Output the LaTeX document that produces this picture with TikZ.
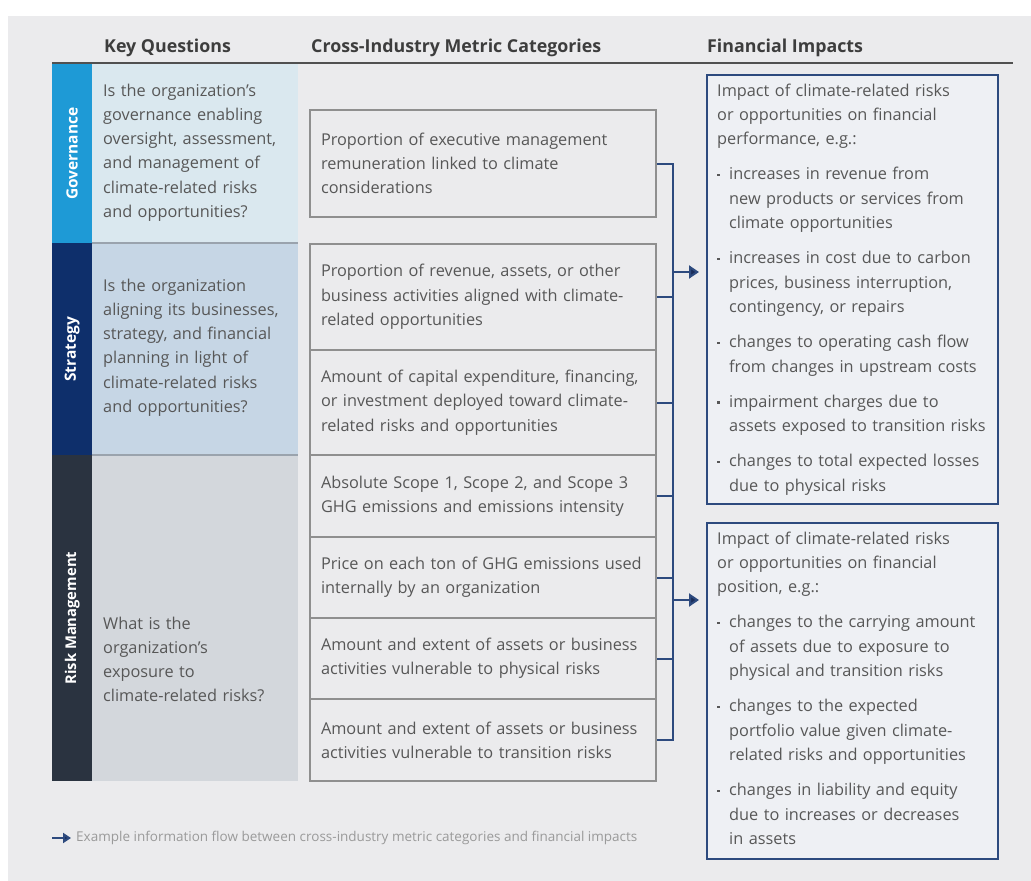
\documentclass[tikz,border=0pt]{standalone}
\usepackage{fontspec}
\setmainfont{Open Sans}
\usetikzlibrary{arrows.meta}
\definecolor{bg}{HTML}{EBEBED}
\definecolor{govbar}{HTML}{1E9AD6}
\definecolor{govpan}{HTML}{DAE8EF}
\definecolor{strbar}{HTML}{0E2F6B}
\definecolor{strpan}{HTML}{C6D6E5}
\definecolor{riskbar}{HTML}{2A3340}
\definecolor{riskpan}{HTML}{D3D7DC}
\definecolor{txt}{HTML}{575757}
\definecolor{hdr}{HTML}{3D3D3D}
\definecolor{mbord}{HTML}{8F8F8F}
\definecolor{navy}{HTML}{2D4A7E}
\definecolor{navydk}{HTML}{1A2D5A}
\definecolor{fbox}{HTML}{EEF0F4}
\definecolor{sep}{HTML}{9AA3AD}
\definecolor{legtxt}{HTML}{9A9A9A}
\newcommand\FIbul{\makebox[12pt][l]{\rule[3.5pt]{3pt}{2.4pt}}}
\newcommand\FIind{\hspace*{12pt}}
\begin{document}
\begin{tikzpicture}[x=1pt,y=-1pt,
  body/.style={font=\fontsize{16.3}{24.3}\selectfont, text=txt},
  header/.style={font=\bfseries\fontsize{17.8}{20}\selectfont, text=hdr, anchor=base west, inner sep=0pt},
  qtext/.style={body, text width=194pt, align=left, inner sep=0pt, anchor=base west},
  metric/.style={body, draw=mbord, line width=2pt, text width=330pt, minimum width=346pt,
     inner xsep=8pt, inner ysep=0pt, align=left},
  fin/.style={draw=navy, line width=2pt, fill=fbox, minimum width=291pt, inner sep=0pt, anchor=north west},
  ftext/.style={body, text width=280pt, align=left, inner sep=0pt, anchor=base west},
  panel/.style={inner sep=0pt, minimum width=206pt, anchor=north west},
  barbox/.style={inner sep=0pt, minimum width=40pt, anchor=north west},
  vlabel/.style={rotate=90, font=\bfseries\fontsize{15.5}{16}\selectfont, text=white, inner sep=0pt},
  conn/.style={draw=navy, line width=2pt},
  arr/.style={conn, -{Triangle[length=10pt,width=13pt,fill=navydk]}},
  sepline/.style={draw=sep, line width=2pt}
]
\useasboundingbox (0,0) rectangle (1031,881);
\fill[white] (0,0) rectangle (1031,881);
\fill[bg] (8,16) rectangle (1031,881);

% headers
\node[header] (h1) at (104,52) {Key Questions};
\node[header] (h2) at (311,52) {Cross-Industry Metric Categories};
\node[header] (h3) at (707,52) {Financial Impacts};
\draw[draw=hdr!90, line width=1.5pt] (52,63) -- (1013,63);

% left bars and panels
\node[barbox, fill=govbar, minimum height=179pt] (gb) at (52,64) {};
\node[barbox, fill=strbar, minimum height=212pt] (sb) at (52,243) {};
\node[barbox, fill=riskbar, minimum height=326pt] (rb) at (52,455) {};
\node[panel, fill=govpan, minimum height=179pt] (gp) at (92,64) {};
\node[panel, fill=strpan, minimum height=212pt] (sp) at (92,243) {};
\node[panel, fill=riskpan, minimum height=326pt] (rp) at (92,455) {};
\draw[sepline] (sp.north west) -- (sp.north east);
\draw[sepline] (rp.north west) -- (rp.north east);

\node[vlabel] (gl) at (gb.center) {Governance};
\node[vlabel] (sl) at (sb.center) {Strategy};
\node[vlabel, font=\bfseries\fontsize{14.8}{16}\selectfont] (rl) at (rb.center) {Risk Management};

\node[qtext] (gq) at (103,96) {Is the organization’s\\governance enabling\\oversight, assessment,\\and management of\\climate-related risks\\and opportunities?};
\node[qtext] (sq) at (103,291) {Is the organization\\aligning its businesses,\\strategy, and financial\\planning in light of\\climate-related risks\\and opportunities?};
\node[qtext] (rq) at (103,629) {What is the\\organization’s\\exposure to\\climate-related risks?};

% metric boxes
\node[metric, minimum height=107pt] (m1) at (483,163.5) {\hspace*{3pt}Proportion of executive management\\\hspace*{3pt}remuneration linked to climate\\\hspace*{3pt}considerations};
\node[metric, minimum height=106pt] (m2) at (483,297) {\hspace*{3pt}Proportion of revenue, assets, or other\\\hspace*{3pt}business activities aligned with climate-\\\hspace*{3pt}related opportunities};
\node[metric, minimum height=105pt] (m3) at (483,402.5) {\hspace*{3pt}Amount of capital expenditure, financing,\\\hspace*{3pt}or investment deployed toward climate-\\\hspace*{3pt}related risks and opportunities};
\node[metric, minimum height=82pt] (m4) at (483,496) {\hspace*{3pt}Absolute Scope 1, Scope 2, and Scope 3\\\hspace*{3pt}GHG emissions and emissions intensity};
\node[metric, minimum height=81pt] (m5) at (483,577.5) {\hspace*{3pt}Price on each ton of GHG emissions used\\\hspace*{3pt}internally by an organization};
\node[metric, minimum height=81pt] (m6) at (483,658.5) {\hspace*{3pt}Amount and extent of assets or business\\\hspace*{3pt}activities vulnerable to physical risks};
\node[metric, minimum height=82pt] (m7) at (483,740) {\hspace*{3pt}Amount and extent of assets or business\\\hspace*{3pt}activities vulnerable to transition risks};

% financial boxes
\node[fin, minimum height=429pt] (fa) at (706,74) {};
\node[fin, minimum height=336pt] (fb) at (706,522) {};
\node[ftext] (fat) at (717,96) {Impact of climate-related risks\\or opportunities on financial\\performance, e.g.:\\[11pt]
\FIbul increases in revenue from\\\FIind new products or services from\\\FIind climate opportunities\\[11pt]
\FIbul increases in cost due to carbon\\\FIind prices, business interruption,\\\FIind contingency, or repairs\\[11pt]
\FIbul changes to operating cash flow\\\FIind from changes in upstream costs\\[11pt]
\FIbul impairment charges due to\\\FIind assets exposed to transition risks\\[11pt]
\FIbul changes to total expected losses\\\FIind due to physical risks};
\node[ftext] (fbt) at (717,544) {Impact of climate-related risks\\or opportunities on financial\\position, e.g.:\\[11pt]
\FIbul changes to the carrying amount\\\FIind of assets due to exposure to\\\FIind physical and transition risks\\[11pt]
\FIbul changes to the expected\\\FIind portfolio value given climate-\\\FIind related risks and opportunities\\[11pt]
\FIbul changes in liability and equity\\\FIind due to increases or decreases\\\FIind in assets};

% connectors
\coordinate (bx) at (673,0);
\draw[conn] (m1.east) -- (m1.east -| bx) -- (m7.east -| bx) -- (m7.east);
\foreach \m in {m2,m3,m4,m5,m6} \draw[conn] (\m.east) -- (\m.east -| bx);
\coordinate (a1) at (673,272);
\coordinate (a2) at (673,600);
\draw[arr, shorten >=7pt] (a1) -- (a1 -| fa.west);
\draw[arr, shorten >=7pt] (a2) -- (a2 -| fb.west);

% legend
\coordinate (l1) at (52,838);
\coordinate (l2) at (71,838);
\draw[conn, line width=2pt, -{Triangle[length=8pt,width=10pt,fill=navydk]}] (l1) -- (l2);
\node[anchor=west, inner sep=0pt, font=\fontsize{13.5}{15}\selectfont, text=legtxt] (leg) at (76,838) {Example information flow between cross-industry metric categories and financial impacts};
\end{tikzpicture}
\end{document}
